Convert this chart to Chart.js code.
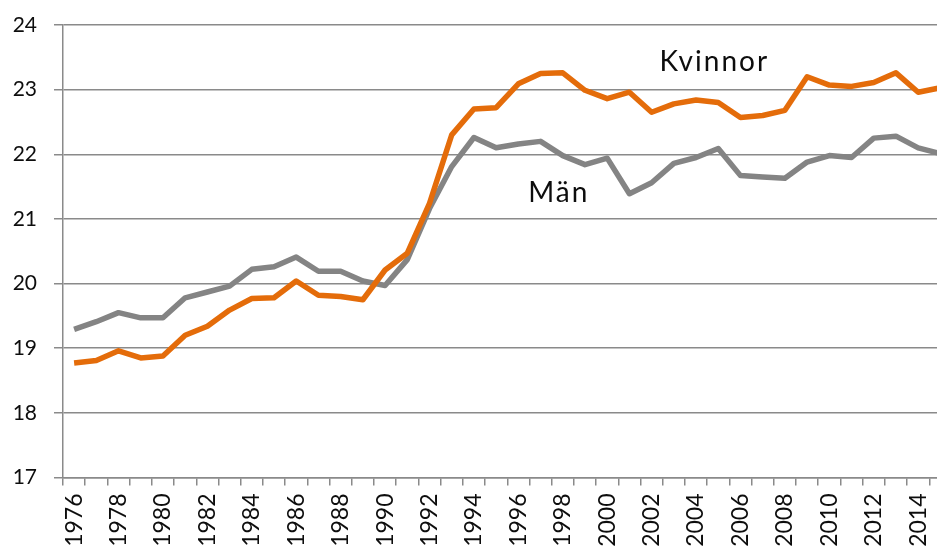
<!DOCTYPE html>
<html>
<head>
<meta charset="utf-8">
<script src="https://cdn.jsdelivr.net/npm/chart.js@4/dist/chart.umd.min.js"></script>
<style>
  html, body { margin: 0; padding: 0; background: #fff; overflow: hidden; width: 937px; height: 546px; }
  #wrap { width: 976px; height: 570px; }
</style>
</head>
<body>
<div id="wrap"><canvas id="c" width="976" height="570"></canvas></div>
<script>
const years = ["1976","1977","1978","1979","1980","1981","1982","1983","1984","1985",
               "1986","1987","1988","1989","1990","1991","1992","1993","1994","1995",
               "1996","1997","1998","1999","2000","2001","2002","2003","2004","2005",
               "2006","2007","2008","2009","2010","2011","2012","2013","2014","2015"];
const kvinnor = [18.77, 18.81, 18.96, 18.85, 18.88, 19.20, 19.34, 19.59, 19.77, 19.78,
                 20.04, 19.82, 19.80, 19.75, 20.21, 20.47, 21.24, 22.30, 22.70, 22.72,
                 23.09, 23.25, 23.26, 22.99, 22.86, 22.96, 22.65, 22.78, 22.84, 22.80,
                 22.57, 22.60, 22.68, 23.20, 23.07, 23.05, 23.11, 23.26, 22.96, 23.03];
const man = [19.29, 19.41, 19.55, 19.47, 19.47, 19.78, 19.87, 19.96, 20.22, 20.26,
             20.41, 20.19, 20.19, 20.04, 19.97, 20.37, 21.16, 21.81, 22.26, 22.10,
             22.16, 22.20, 21.98, 21.84, 21.94, 21.39, 21.56, 21.86, 21.95, 22.09,
             21.67, 21.65, 21.63, 21.88, 21.98, 21.95, 22.25, 22.28, 22.10, 22.01];
const yMin = 17, yMax = 24, yStep = 1;
const seriesNames = ["Kvinnor", "Män"];
// label anchors (category, value)
const labelAnchors = [
  { text: "Kvinnor", cat: "2005", value: 23.43 },
  { text: "Män", cat: "1998", value: 21.40 }
];

const gridColor = "#8a8a8a";
const fontFamily = "Lato, 'Open Sans', sans-serif";

const textLabels = {
  id: "textLabels",
  afterDatasetsDraw(chart) {
    const ctx = chart.ctx;
    const xs = chart.scales.x, ys = chart.scales.y;
    ctx.save();
    ctx.fillStyle = "#0d0d0d";
    ctx.font = "28px " + fontFamily;
    try { ctx.letterSpacing = "2px"; } catch (e) {}
    ctx.textAlign = "center";
    ctx.textBaseline = "middle";
    labelAnchors.forEach(a => {
      const x = xs.getPixelForValue(years.indexOf(a.cat)) - 4;
      const y = ys.getPixelForValue(a.value);
      ctx.fillText(a.text, x, y);
    });
    ctx.restore();
  }
};

new Chart(document.getElementById("c"), {
  type: "line",
  data: {
    labels: years,
    datasets: [
      { label: seriesNames[0], data: kvinnor, borderColor: "#E46C0A", backgroundColor: "#E46C0A",
        borderWidth: 5.5, pointRadius: 0, tension: 0, order: 0, borderJoinStyle: "round", borderCapStyle: "butt" },
      { label: seriesNames[1], data: man, borderColor: "#848484", backgroundColor: "#848484",
        borderWidth: 5.5, pointRadius: 0, tension: 0, order: 1, borderJoinStyle: "round", borderCapStyle: "butt" }
    ]
  },
  options: {
    responsive: false,
    animation: false,
    devicePixelRatio: 1,
    layout: { padding: { top: 25, left: 0, right: 0, bottom: 0 } },
    plugins: { legend: { display: false }, tooltip: { enabled: false } },
    scales: {
      x: {
        offset: true,
        grid: { offset: true, drawOnChartArea: false, drawTicks: true, tickLength: 8,
                color: gridColor, lineWidth: 1.5 },
        border: { color: gridColor, width: 1.5 },
        ticks: {
          autoSkip: false, maxRotation: 90, minRotation: 90, padding: 8,
          color: "#0d0d0d", font: { family: fontFamily, size: 23 },
          callback: function(v, i) { return i % 2 === 0 ? years[i] : ""; }
        },
        afterFit: s => { s.height = 570 - 477.5; }
      },
      y: {
        min: yMin, max: yMax,
        grid: { color: gridColor, lineWidth: 1.5, tickLength: 9, drawTicks: true },
        border: { color: gridColor, width: 1.5 },
        ticks: { stepSize: yStep, padding: 17, color: "#0d0d0d", font: { family: fontFamily, size: 21 } },
        afterFit: s => { s.width = 63; s.paddingTop = 0; s.paddingBottom = 0; }
      }
    }
  },
  plugins: [textLabels]
});
</script>
</body>
</html>
